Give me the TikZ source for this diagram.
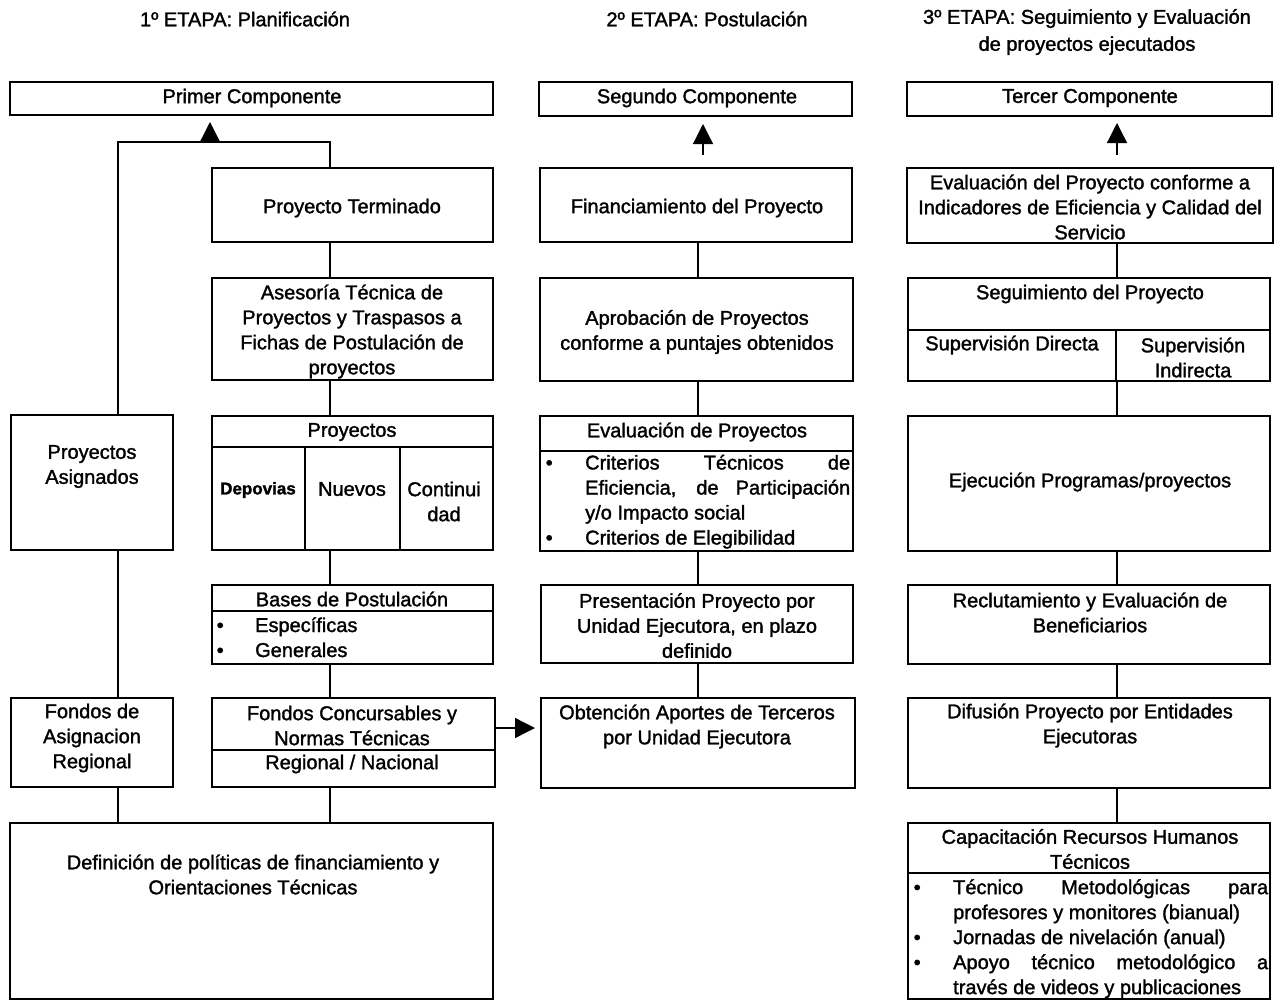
\documentclass[tikz,border=0pt]{standalone}
\usepackage{fontspec}
\setmainfont{Liberation Sans}[FakeBold=1.5]
\usetikzlibrary{arrows.meta}

\begin{document}
\begin{tikzpicture}[x=1pt,y=-1pt,
  font=\fontsize{20}{25}\selectfont,
  caja/.style={draw,line width=1.5pt,rectangle,anchor=north west,inner sep=0,outer sep=0},
  txt/.style={align=center,inner sep=0,yshift=-1pt},
  lista/.style={anchor=west,inner sep=0,yshift=-1.5pt},
  linea/.style={line width=1.3pt},
  flecha/.style={line width=1.3pt,-{Triangle[length=20pt,width=20pt]}}]
\useasboundingbox (0,0) rectangle (1279,1001);
% boxes: name / left / top / right / bottom
\foreach \n/\xl/\yt/\xr/\yb in {
  pc/10/82/493/115, pt/212/168/493/242, ase/212/278/493/380,
  pro/212/416/493/550, bas/212/585/493/664, fc/212/698/495/787,
  def/10/823/493/999, pa/11/415/173/550, far/11/698/173/787,
  sc/539/82/852/116, fin/540/168/852/242, apr/540/278/853/381,
  eva/540/416/853/551, pre/541/585/853/663, obt/541/698/855/788,
  tc/907/82/1272/116, evp/907/168/1273/243, seg/908/278/1270/381,
  eje/908/416/1270/551, rec/908/585/1270/664, dif/908/698/1270/788,
  cap/908/823/1270/999}
  \node[caja,minimum width={(\xr-\xl)*1pt},minimum height={(\yb-\yt)*1pt}] (\n) at (\xl,\yt) {};
% inner divisions
\draw[linea] (212,447) -- (493,447) (305,447) -- (305,550) (400,447) -- (400,550);
\draw[linea] (212,611) -- (493,611);
\draw[linea] (212,750) -- (495,750);
\draw[linea] (540,451) -- (853,451);
\draw[linea] (908,330) -- (1270,330) (1116,330) -- (1116,381);
\draw[linea] (908,873) -- (1270,873);

% titles
\node[txt] (e1) at (245,18) {1º ETAPA: Planificación};
\node[txt] (e2) at (707,18) {2º ETAPA: Postulación};
\node[txt,font=\fontsize{20}{27}\selectfont] (e3) at (1087,31) {3º ETAPA: Seguimiento y Evaluación\\de proyectos ejecutados};

% first stage
\node[txt] (t-pc) at (252,97) {Primer Componente};
\node[txt] (t-pt) at (352,207) {Proyecto Terminado};
\node[txt] (t-ase) at (352,330.5) {Asesoría Técnica de\\Proyectos y Traspasos a\\Fichas de Postulación de\\proyectos};
\node[txt] (t-pro) at (352,431) {Proyectos};
\node[txt,font=\fontsize{17}{20}\selectfont\bfseries] (t-dep) at (258,489) {Depovias};
\node[txt] (t-nue) at (352,488) {Nuevos};
\node[txt] (t-con) at (444,500.5) {Continui\\dad};
\node[txt] (t-bas) at (352,598) {Bases de Postulación};
\node[lista] (l-bas) at (216.5,638) {\begin{tabular}{@{}p{38.5pt}@{}p{230pt}@{}}
  \textbullet & Específicas\\
  \textbullet & Generales
\end{tabular}};
\node[txt] (t-fc) at (352,724.5) {Fondos Concursables y\\Normas Técnicas};
\node[txt] (t-rn) at (352,763) {Regional / Nacional};
\node[txt] (t-def) at (253,873.5) {Definición de políticas de financiamiento y\\Orientaciones Técnicas};
\node[txt] (t-pa) at (92,465.5) {Proyectos\\Asignados};
\node[txt] (t-far) at (92,737) {Fondos de\\Asignacion\\Regional};

% second stage
\node[txt] (t-sc) at (697,97) {Segundo Componente};
\node[txt] (t-fin) at (697,207) {Financiamiento del Proyecto};
\node[txt] (t-apr) at (697,331) {Aprobación de Proyectos\\conforme a puntajes obtenidos};
\node[txt] (t-eva) at (697,431) {Evaluación de Proyectos};
\node[lista] (l-eva) at (545.5,500.5) {\begin{tabular}{@{}p{39.5pt}@{}p{265pt}@{}}
  \textbullet & \makebox[265pt][s]{Criterios Técnicos de}\\
   & \makebox[265pt][s]{Eficiencia, de Participación}\\
   & y/o Impacto social\\
  \textbullet & Criterios de Elegibilidad
\end{tabular}};
\node[txt] (t-pre) at (697,624.5) {Presentación Proyecto por\\Unidad Ejecutora, en plazo\\definido};
\node[txt] (t-obt) at (697,725.5) {Obtención Aportes de Terceros\\por Unidad Ejecutora};

% third stage
\node[txt] (t-tc) at (1090,97) {Tercer Componente};
\node[txt] (t-evp) at (1090,206) {Evaluación del Proyecto conforme a\\Indicadores de Eficiencia y Calidad del\\Servicio};
\node[txt] (t-seg) at (1090,293) {Seguimiento del Proyecto};
\node[txt] (t-sd) at (1012,344) {Supervisión Directa};
\node[txt] (t-si) at (1193,356.5) {Supervisión\\Indirecta};
\node[txt] (t-eje) at (1090,481) {Ejecución Programas/proyectos};
\node[txt] (t-rec) at (1090,611.5) {Reclutamiento y Evaluación de\\Beneficiarios};
\node[txt] (t-dif) at (1090,724.5) {Difusión Proyecto por Entidades\\Ejecutoras};
\node[txt] (t-cap) at (1090,848) {Capacitación Recursos Humanos\\Técnicos};
\node[lista] (l-cap) at (913.5,937.6) {\begin{tabular}{@{}p{39.5pt}@{}p{315pt}@{}}
  \textbullet & \makebox[315pt][s]{Técnico Metodológicas para}\\
   & profesores y monitores (bianual)\\
  \textbullet & Jornadas de nivelación (anual)\\
  \textbullet & \makebox[315pt][s]{Apoyo técnico metodológico a}\\
   & través de videos y publicaciones
\end{tabular}};

% connectors
\coordinate (ca) at (118,0);
\coordinate (cb) at (330,0);
\coordinate (cc) at (698,0);
\coordinate (cd) at (1117,0);
\coordinate (fa) at (210,142);
\coordinate (fb) at (703,0);
\coordinate (lz) at (0,142);
\coordinate (hz) at (0,728);
\foreach \a/\b in {pt/ase,ase/pro,pro/bas,bas/fc,fc/def}
  \draw[linea] (\a.south -| cb) -- (\b.north -| cb);
\foreach \a/\b in {pa/far,far/def}
  \draw[linea] (\a.south -| ca) -- (\b.north -| ca);
\foreach \a/\b in {fin/apr,apr/eva,eva/pre,pre/obt}
  \draw[linea] (\a.south -| cc) -- (\b.north -| cc);
\foreach \a/\b in {evp/seg,seg/eje,eje/rec,rec/dif,dif/cap}
  \draw[linea] (\a.south -| cd) -- (\b.north -| cd);
\draw[linea] (pa.north -| ca) -- (ca |- lz) -- (cb |- lz) -- (pt.north -| cb);
\draw[flecha,shorten >=7pt] (fa) -- (pc.south -| fa);
\draw[flecha,shorten <=13pt,shorten >=8pt] (fin.north -| fb) -- (sc.south -| fb);
\draw[flecha,shorten <=13pt,shorten >=7pt] (evp.north -| cd) -- (tc.south -| cd);
\draw[flecha,shorten >=6pt] (fc.east |- hz) -- (obt.west |- hz);
\end{tikzpicture}
\end{document}
